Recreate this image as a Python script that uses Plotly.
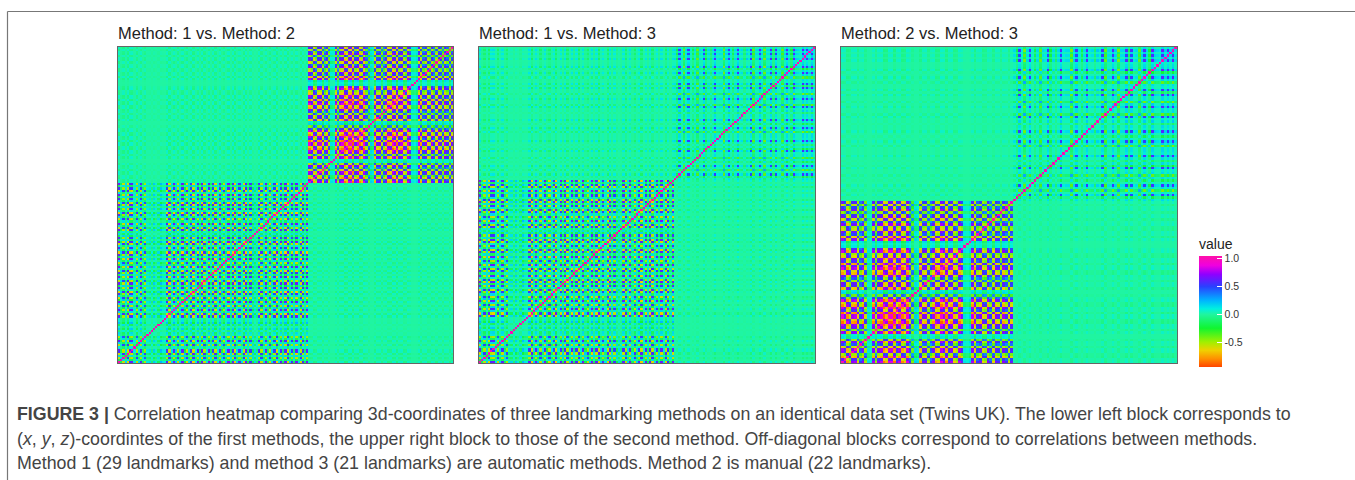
# NOTE: the reference cells are too blurred to read one by one. Each method's block is
# APPROXIMATED from per-coordinate strengths (product of two
# loadings, diagonal = 1). No random numbers; the cell pattern is not a cell-exact transcription.
import numpy as np
import plotly.graph_objects as go

PANEL_TITLES = ["Method: 1 vs. Method: 2", "Method: 1 vs. Method: 3", "Method: 2 vs. Method: 3"]
PANEL_METHODS = [(1, 2), (1, 3), (2, 3)]
# cross-method strength: upper-left block, lower-right block
CROSS_UPPER_LEFT = [0.10, 0.22, 0.09]
CROSS_LOWER_RIGHT = [0.09, 0.15, 0.09]

METHOD_1 = [
    .8, -.2, -.7, .2, -.75, .7, .8, .15, -.7, .2, .75, -.2, -.65, .15,
    .2, -.12, .25, .1, -.2, .3, .15, .12,
    .75, -.8, .2, .8, .25, -.7, .2, .8, -.3, -.75, .2, .7, -.8, .15, .75, -.25, .8, -.7, .15,
    .8, -.2, .7, -.75, .15, .8, -.25, -.7, .2, .85, -.2, .75, -.8, .2, .7, .15, -.75, .8, -.2, .7,
    -.25, .2, -.15, .75, -.7, .2, .8, -.2, -.75, .2, .7, -.8, .15, .75, -.2, .8, -.75, .2, .7,
    -.2, .8, .15, -.75, .7, -.2, .8,
]
METHOD_2 = [
    .9, .7, -.85, -.6, .8, .85, -.7, .55, .8, -.6,
    .15, .1,
    .85, -.55, .8, .9, -.95, -.8, .95, .95, -.95, .7, .9, -.9, -.75, .95, .6, -.5,
    .2, .15,
    -.8, .7, .75, -.6, .55, .8, -.85, -.75, .95, .8, -.9, .7, .85, -.75, -.6, .9, .7,
    .15, .1, .2,
    .85, -.8, .6, .75, -.7, -.6, .8, .55, -.7, .75, .65, -.55, .8, .6, -.65, .7,
]
METHOD_3 = [
    .2, -.25, .7, .15, -.55, .2, .7, .1, -.25, .2, -.5, .2, .15, .7, -.3,
    .2, -.15, .2, .75, .15, .2, .2, -.55, .25, .7, .15, -.25, .2, .75, .15,
    .2, -.15, .25, .15, .7, -.5, .2, .2, .75, .25, -.55, .2, .2, .75, -.2,
    .7, .15, .2, -.5, .25, .75, .2, -.3, .8, .25, .2, .15, .8, .25, .7,
    .25, .8, .2,
]
METHODS = {1: np.array(METHOD_1), 2: np.array(METHOD_2), 3: np.array(METHOD_3)}

CAPTION_1 = ("<b>FIGURE 3 |</b> Correlation heatmap comparing 3d-coordinates of three landmarking methods "
             "on an identical data set (Twins UK). The lower left block corresponds to")
CAPTION_2 = ("(<i>x</i>, <i>y</i>, <i>z</i>)-coordintes of the first methods, the upper right block to those "
             "of the second method. Off-diagonal blocks correspond to correlations between methods.")
CAPTION_3 = ("Method 1 (29 landmarks) and method 3 (21 landmarks) are automatic methods. "
             "Method 2 is manual (22 landmarks).")
COLORBAR_VALUES = [-0.5, 0, 0.5, 1]
COLORBAR_LABELS = ["-0.5", "0.0", "0.5", "1.0"]

W, H = 1355, 480
PANEL_X = [(118, 453), (479, 815), (841, 1177)]
PANEL_Y = (47, 363)
ZMIN, ZMAX = -0.95, 1.05
FONT = "Liberation Sans"


def t(v):
    return (v - ZMIN) / (ZMAX - ZMIN)


COLORSCALE = [
    [t(-0.95), "#ff4500"], [t(-0.8), "#ff9000"], [t(-0.65), "#f0d000"], [t(-0.5), "#a0f000"],
    [t(-0.25), "#10f530"], [t(0.0), "#20f5a0"], [t(0.1), "#00f0e0"], [t(0.25), "#00b4ff"],
    [t(0.5), "#2a40ff"], [t(0.72), "#9000ff"], [t(0.88), "#f000e0"], [t(1.05), "#ff10a8"],
]


def block(a):
    m = np.outer(a, a)
    np.fill_diagonal(m, 1.0)
    return m


fig = go.Figure()
shapes, annotations = [], []
for i, (a, b) in enumerate(PANEL_METHODS):
    pa, pb = METHODS[a], METHODS[b]
    z = np.block([
        [block(pa), CROSS_LOWER_RIGHT[i] * np.outer(pa, pb)],
        [CROSS_UPPER_LEFT[i] * np.outer(pb, pa), block(pb)],
    ])
    n = z.shape[0]
    ax = "" if i == 0 else str(i + 1)
    fig.add_trace(go.Heatmap(z=z, coloraxis="coloraxis", xaxis="x" + ax, yaxis="y" + ax,
                             hoverinfo="skip"))
    x0, x1 = PANEL_X[i]
    common = dict(showgrid=False, zeroline=False, showticklabels=False, ticks="",
                  showline=True, mirror=True, linecolor="#666666", linewidth=1,
                  range=[-0.5, n - 0.5])
    fig.update_layout({
        "xaxis" + ax: dict(domain=[x0 / W, x1 / W], anchor="y" + ax, **common),
        "yaxis" + ax: dict(domain=[1 - PANEL_Y[1] / H, 1 - PANEL_Y[0] / H], anchor="x" + ax, **common),
    })
    annotations.append(dict(text=PANEL_TITLES[i], x=(x0 - 2) / W, y=1 - 32.5 / H, xref="paper", yref="paper",
                            xanchor="left", yanchor="middle", showarrow=False,
                            font=dict(family=FONT, size=16.5, color="#222222")))

for text, y in [(CAPTION_1, 414), (CAPTION_2, 438.5), (CAPTION_3, 463)]:
    annotations.append(dict(text=text, x=15 / W, y=1 - y / H, xref="paper", yref="paper",
                            xanchor="left", yanchor="middle", showarrow=False, align="left",
                            font=dict(family=FONT, size=17.8, color="#444444")))

for x0, y0, x1, y1 in [(7.5, 11.5, W, 11.5), (7.5, 11.5, 7.5, H)]:
    shapes.append(dict(type="line", xref="paper", yref="paper", x0=x0 / W, x1=x1 / W,
                       y0=1 - y0 / H, y1=1 - y1 / H, line=dict(color="#777777", width=1.2)))

fig.update_layout(
    width=W, height=H, margin=dict(l=0, r=0, t=0, b=0), paper_bgcolor="white", plot_bgcolor="white",
    showlegend=False, shapes=shapes, annotations=annotations,
    coloraxis=dict(
        cmin=ZMIN, cmax=ZMAX, colorscale=COLORSCALE,
        colorbar=dict(
            x=1199 / W, xanchor="left", xpad=0, y=1 - 367 / H, yanchor="bottom", ypad=0,
            lenmode="pixels", len=132, thicknessmode="pixels", thickness=23, outlinewidth=0,
            tickvals=COLORBAR_VALUES, ticktext=COLORBAR_LABELS, ticks="inside", ticklen=5,
            tickcolor="white", tickfont=dict(family=FONT, size=10.5, color="#333333"),
            title=dict(text="value", side="top", font=dict(family=FONT, size=14, color="#222222")),
        ),
    ),
)
fig.write_html("out.html", config={"displayModeBar": False},
               post_script="document.body.style.margin='0';")
